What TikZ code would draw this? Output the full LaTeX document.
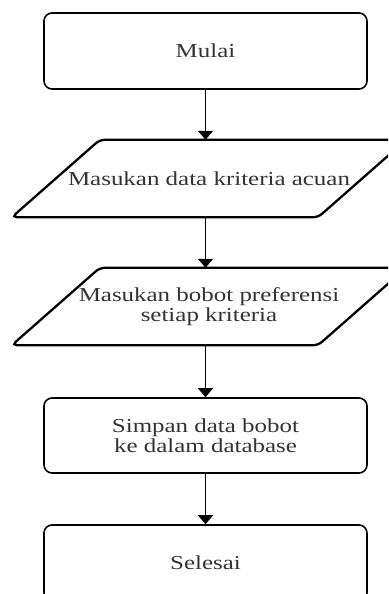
\documentclass[tikz,border=0pt]{standalone}
\usepackage{fontspec}
\setmainfont{Liberation Serif}[FakeStretch=1.26]
\usetikzlibrary{arrows.meta,calc}
\begin{document}
\begin{tikzpicture}[x=1pt,y=-1pt,
  txt/.style={font=\fontsize{19.8}{20}\selectfont, text=black!80, align=center},
  termbox/.style={txt, draw=black, line width=1.6pt, rounded corners=8pt, minimum width=323pt, inner sep=0pt},
  iobody/.style={txt, minimum width=306pt, minimum height=77pt, inner sep=0pt},
  iobord/.style={draw=black, line width=2.3pt, rounded corners=5pt},
  flow/.style={draw=black, line width=1.8pt, -{Triangle[length=9pt,width=15pt]}}
]
\clip (0,0) rectangle (388,594);
\node[termbox, minimum height=76pt] (b1) at (205.5,51) {Mulai};
\node[iobody] (in1) at (209,178.5) {Masukan data kriteria acuan};
\draw[iobord] ([xshift=-44pt]in1.south west) -- ([xshift=-44pt]in1.south east) -- ([xshift=44pt]in1.north east) -- ([xshift=44pt]in1.north west) -- cycle;
\node[iobody] (in2) at (209,306.5) {Masukan bobot preferensi\\ setiap kriteria};
\draw[iobord] ([xshift=-44pt]in2.south west) -- ([xshift=-44pt]in2.south east) -- ([xshift=44pt]in2.north east) -- ([xshift=44pt]in2.north west) -- cycle;
\node[termbox, minimum height=75pt] (b3) at (205.5,435.5) {Simpan data bobot\\ke dalam database};
\node[termbox, minimum height=76pt] (b4) at (205.5,563) {Selesai};
\draw[flow] (b1.south) -- (b1.south |- in1.north);
\draw[flow] (b1.south |- in1.south) -- (b1.south |- in2.north);
\draw[flow] (b1.south |- in2.south) -- (b3.north);
\draw[flow] (b3.south) -- (b4.north);
\end{tikzpicture}
\end{document}
